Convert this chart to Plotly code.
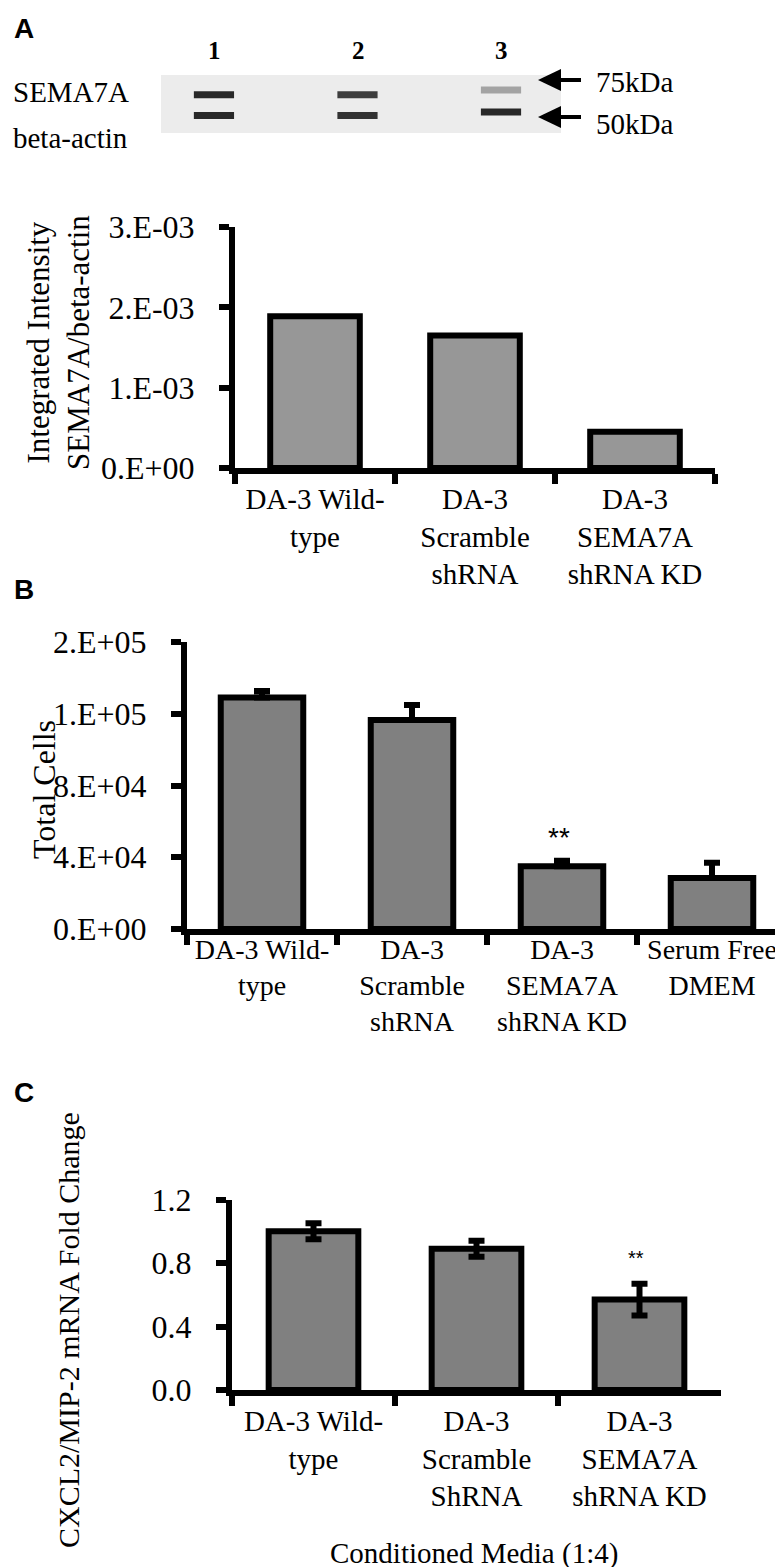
import plotly.graph_objects as go

W, H = 783, 1567

# ---- data ----
lanes = [1, 2, 3]
lane_labels = ["1", "2", "3"]
sema7a_band = [0.95, 0.85, 0.35]      # relative band darkness (upper band, ~75kDa)
actin_band = [0.95, 0.9, 0.95]        # relative band darkness (lower band, ~50kDa)

cats_a = ["DA-3 Wild-<br>type", "DA-3<br>Scramble<br>shRNA", "DA-3<br>SEMA7A<br>shRNA KD"]
vals_a = [1.89e-3, 1.65e-3, 0.45e-3]
ticks_a = [0, 0.001, 0.002, 0.003]
ticktext_a = ["0.E+00", "1.E-03", "2.E-03", "3.E-03"]

cats_b = ["DA-3 Wild-<br>type", "DA-3<br>Scramble<br>shRNA", "DA-3<br>SEMA7A<br>shRNA KD", "Serum Free<br>DMEM"]
vals_b = [129000, 116500, 35000, 28500]
err_b = [3700, 8400, 3000, 8400]
ticks_b = [0, 40000, 80000, 120000, 160000]
ticktext_b = ["0.E+00", "4.E+04", "8.E+04", "1.E+05", "2.E+05"]

cats_c = ["DA-3 Wild-<br>type", "DA-3<br>Scramble<br>ShRNA", "DA-3<br>SEMA7A<br>shRNA KD"]
vals_c = [1.0, 0.89, 0.57]
err_c = [0.05, 0.05, 0.1]
ticks_c = [0, 0.4, 0.8, 1.2]
ticktext_c = ["0.0", "0.4", "0.8", "1.2"]


def X(px):
    return px / W


def Y(py):
    return 1 - py / H


SERIF = "Liberation Serif"
SANS = "Liberation Sans"

fig = go.Figure()

# ---- bar panels ----
fig.add_trace(go.Bar(x=cats_a, y=vals_a, xaxis="x", yaxis="y", width=0.56,
                     marker=dict(color="#979797", line=dict(color="black", width=6))))
fig.add_trace(go.Bar(x=cats_b, y=vals_b, xaxis="x2", yaxis="y2", width=0.55,
                     marker=dict(color="#808080", line=dict(color="black", width=6)),
                     error_y=dict(type="data", array=err_b, arrayminus=[0] * 4, symmetric=False,
                                  color="black", thickness=6, width=8)))
fig.add_trace(go.Bar(x=cats_c, y=vals_c, xaxis="x3", yaxis="y3", width=0.55,
                     marker=dict(color="#808080", line=dict(color="black", width=6)),
                     error_y=dict(type="data", array=err_c, color="black", thickness=6, width=8)))

# ---- western blot bands ----
for lane, s, a in zip(lanes, sema7a_band, actin_band):
    fig.add_trace(go.Scatter(x=[lane - 0.14, lane + 0.14], y=[0.66 if lane < 3 else 0.74] * 2,
                             xaxis="x4", yaxis="y4", mode="lines", hoverinfo="skip",
                             line=dict(color=f"rgba(30,30,30,{s})", width=7)))
    fig.add_trace(go.Scatter(x=[lane - 0.14, lane + 0.14], y=[0.30 if lane < 3 else 0.36] * 2,
                             xaxis="x4", yaxis="y4", mode="lines", hoverinfo="skip",
                             line=dict(color=f"rgba(30,30,30,{a})", width=7)))

axis_common = dict(showline=True, linecolor="black", linewidth=6, ticks="outside",
                   tickcolor="black", ticklen=10, tickwidth=6, showgrid=False, zeroline=False,
                   automargin=False,
                   tickfont=dict(family=SERIF, size=32, color="black"))
ycommon = dict(axis_common, ticklabelstandoff=18)
xcommon = dict(axis_common, tickson="boundaries", type="category", tickangle=0,
               tickfont=dict(family=SERIF, size=29, color="black"))

fig.update_layout(
    width=W, height=H, margin=dict(l=0, r=0, t=0, b=0),
    paper_bgcolor="white", plot_bgcolor="white", showlegend=False,
    xaxis=dict(xcommon, domain=[X(227), X(707)], anchor="y"),
    yaxis=dict(ycommon, domain=[Y(460), Y(219)], range=[0, 0.003], anchor="x",
               tickvals=ticks_a, ticktext=ticktext_a),
    xaxis2=dict(xcommon, domain=[X(179), X(779)], anchor="y2", ticklabelstandoff=-10,
                tickfont=dict(family=SERIF, size=28, color="black")),
    yaxis2=dict(ycommon, domain=[Y(921), Y(634)], range=[0, 160000], anchor="x2",
                tickvals=ticks_b, ticktext=ticktext_b),
    xaxis3=dict(xcommon, domain=[X(224), X(713)], anchor="y3"),
    yaxis3=dict(ycommon, domain=[Y(1382), Y(1191.5)], range=[0, 1.2], anchor="x3",
                tickvals=ticks_c, ticktext=ticktext_c),
    xaxis4=dict(domain=[X(153), X(553)], range=[0.631, 3.418], visible=False, anchor="y4",
                automargin=False),
    yaxis4=dict(domain=[Y(125), Y(67)], range=[0, 1], visible=False, anchor="x4",
                automargin=False),
)

# blot background
fig.add_shape(type="rect", xref="x4 domain", yref="y4 domain", x0=0, x1=1, y0=0, y1=1,
              fillcolor="#ececec", line=dict(width=0), layer="below")

# arrows for kDa markers
for py in [72, 109]:
    fig.add_shape(type="line", xref="paper", yref="paper", x0=X(545), x1=X(573), y0=Y(py), y1=Y(py),
                  line=dict(color="black", width=4))
    fig.add_shape(type="path", xref="paper", yref="paper",
                  path=f"M {X(530)} {Y(py)} L {X(553)} {Y(py - 11)} L {X(553)} {Y(py + 11)} Z",
                  fillcolor="black", line=dict(width=0))

ann = []


def text(x, y, s, size, family=SERIF, bold=False, xanchor="center", angle=0):
    ann.append(dict(x=X(x), y=Y(y), xref="paper", yref="paper", text=f"<b>{s}</b>" if bold else s,
                    showarrow=False, xanchor=xanchor, yanchor="middle", textangle=angle,
                    font=dict(family=family, size=size, color="black")))


text(4, 20, "A", 28, SANS, True, "left")
text(4, 582, "B", 28, SANS, True, "left")
text(4, 1084, "C", 28, SANS, True, "left")

for lane, lab in zip([206, 350, 493], lane_labels):
    text(lane, 43, lab, 25, bold=True)
text(3, 84, "SEMA7A", 29, xanchor="left")
text(3, 130, "beta-actin", 29, xanchor="left")
text(586, 74, "75kDa", 29, xanchor="left")
text(586, 116, "50kDa", 29, xanchor="left")

text(50, 335, "Integrated Intensity<br>SEMA7A/beta-actin", 31, angle=-90)
text(36, 782, "Total Cells", 32, angle=-90)
text(60, 1322, "CXCL2/MIP-2 mRNA Fold Change", 30, angle=-90)
text(466, 1545, "Conditioned Media (1:4)", 29)

text(551, 829, "**", 28, SANS)
text(628, 1250, "**", 20, SANS)

fig.update_layout(annotations=ann)
fig.write_html("out.html")
